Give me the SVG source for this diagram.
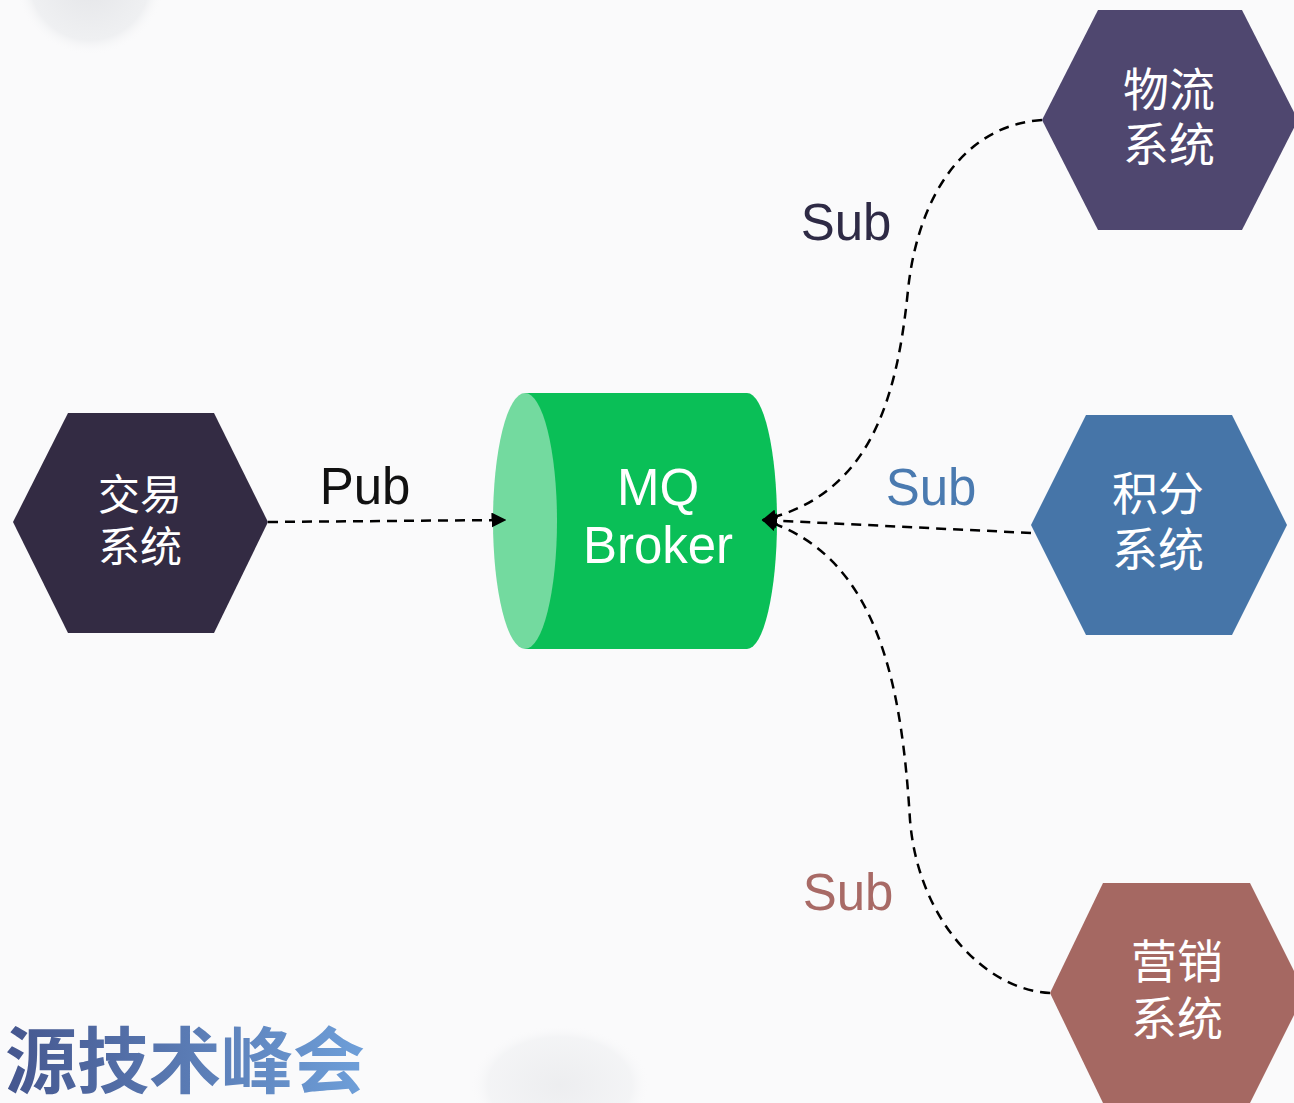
<svg xmlns="http://www.w3.org/2000/svg" width="1294" height="1103" viewBox="0 0 1294 1103">
<defs>
<style>
.hx{font-family:"Noto Sans CJK SC","Noto Sans",sans-serif;fill:#ffffff;text-anchor:middle}
.lbl{font-family:"Liberation Sans",Arial,sans-serif;font-size:51px;text-anchor:middle}
.conn{fill:none;stroke:#000;stroke-width:2.5;stroke-dasharray:10 7}
</style>
<marker id="arr" viewBox="0 0 10 10" refX="9" refY="5" markerWidth="6" markerHeight="6" orient="auto" markerUnits="strokeWidth">
<path d="M0,0 L10,5 L0,10 Z" fill="#000"/>
</marker>
<linearGradient id="logo" x1="0" y1="0" x2="1" y2="0">
<stop offset="0" stop-color="#45568e"/>
<stop offset="1" stop-color="#6e9fd9"/>
</linearGradient>
<radialGradient id="blob" cx="0.5" cy="0.5" r="0.5">
<stop offset="0" stop-color="#e4e5e8"/>
<stop offset="0.8" stop-color="#eff0f2"/>
<stop offset="1" stop-color="#fafafb" stop-opacity="0"/>
</radialGradient>
</defs>
<rect width="1294" height="1103" fill="#fafafb"/>
<circle cx="90" cy="-20" r="75" fill="url(#blob)"/>
<ellipse cx="560" cy="1085" rx="90" ry="60" fill="url(#blob)" opacity="0.6"/>

<g id="node-jiaoyi">
<polygon points="13,522 68,413 214,413 268,522 214,633 68,633" fill="#332b43"/>
<text class="hx" x="140" y="510" font-size="42">交易</text>
<text class="hx" x="140" y="562" font-size="42">系统</text>
</g>

<g id="node-mq">
<path d="M525,393 L747,393 A30,128 0 0 1 747,649 L525,649 Z" fill="#0abf57"/>
<ellipse cx="525" cy="521" rx="32" ry="128" fill="#73da9f"/>
<text class="lbl" x="658" y="505" fill="#fff">MQ</text>
<text class="lbl" x="658" y="563" fill="#fff">Broker</text>
</g>

<g id="node-wuliu">
<polygon points="1042,120 1098,10 1242,10 1298,120 1242,230 1098,230" fill="#4f476f"/>
<text class="hx" x="1169" y="106" font-size="46">物流</text>
<text class="hx" x="1169" y="161" font-size="46">系统</text>
</g>

<g id="node-jifen">
<polygon points="1031,525 1086,415 1232,415 1287,525 1232,635 1086,635" fill="#4675a8"/>
<text class="hx" x="1158" y="510" font-size="46">积分</text>
<text class="hx" x="1158" y="566" font-size="46">系统</text>
</g>

<g id="node-yingxiao">
<polygon points="1050,993 1103,883 1250,883 1305,993 1250,1103 1103,1103" fill="#a56862"/>
<text class="hx" x="1177" y="978" font-size="46">营销</text>
<text class="hx" x="1177" y="1035" font-size="46">系统</text>
</g>

<g id="connectors">
<path class="conn" d="M268,522 L385,521 L505,520" marker-end="url(#arr)"/>
<path class="conn" d="M1042,120 C965,125 918,195 908,290 C897,400 870,495 763,520" marker-end="url(#arr)"/>
<path class="conn" d="M1031,533 L763,520" marker-end="url(#arr)"/>
<path class="conn" d="M1050,993 C985,990 918,920 910,820 C902,690 880,555 763,520" marker-end="url(#arr)"/>
</g>

<g id="labels">
<text class="lbl" x="365" y="504" fill="#111">Pub</text>
<text class="lbl" x="846" y="240" fill="#2e2a45">Sub</text>
<text class="lbl" x="931" y="505" fill="#4a7ab0">Sub</text>
<text class="lbl" x="848" y="910" fill="#a86a66">Sub</text>
</g>

<text x="5" y="1087" font-family="Noto Sans CJK SC,sans-serif" font-weight="bold" font-size="72" fill="url(#logo)">源技术峰会</text>
</svg>
